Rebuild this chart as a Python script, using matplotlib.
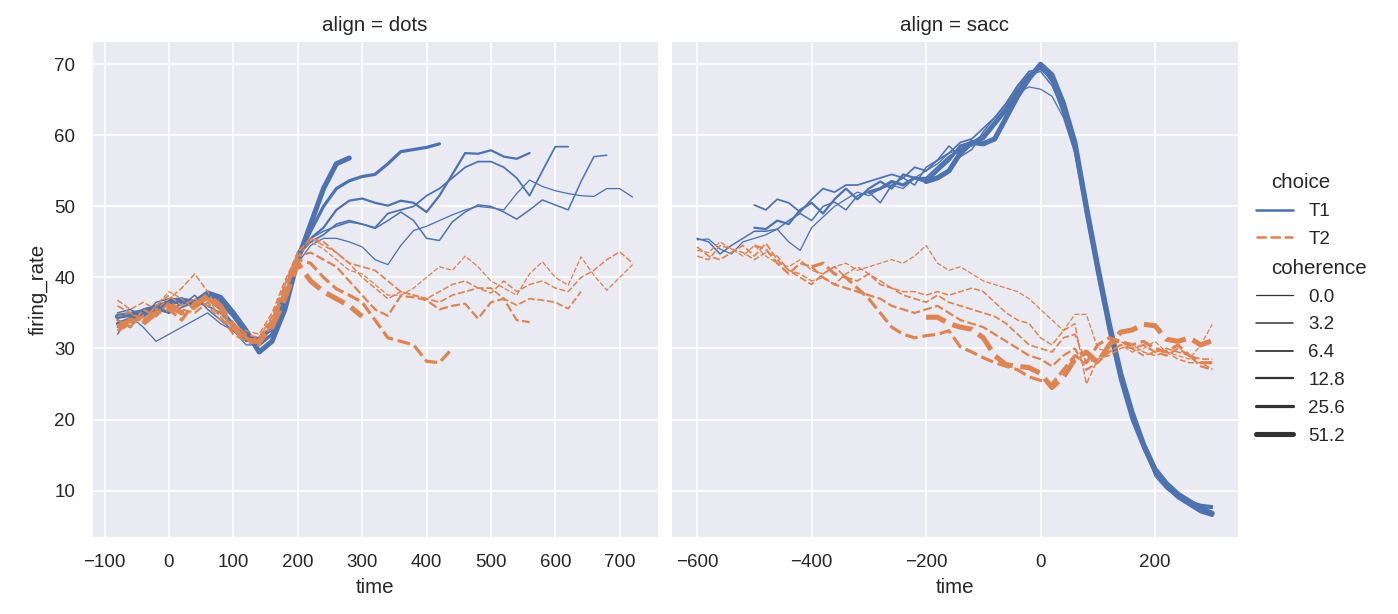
import matplotlib
matplotlib.use("Agg")
import matplotlib.pyplot as plt
import numpy as np
import pandas as pd
import seaborn as sns

# ---------------- data (firing rate every 20 ms) ----------------
STEP = 20

# align = dots, choice = T1 (all start at -80)
dots_T1_c00 = [32.0, 34.5, 33.0, 31.0, 32.0, 33.0, 34.0, 35.0, 33.5, 32.5, 30.5, 30.5, 33.0, 38.0, 42.0,
               44.5, 45.5, 45.5, 45.0, 44.3, 42.5, 41.8, 44.5, 46.6, 47.2, 48.0, 48.8, 49.5, 50.0, 49.8,
               49.5, 51.8, 53.7, 52.8, 52.2, 51.8, 51.5, 51.4, 52.5, 52.5, 51.3]
dots_T1_c32 = [35.0, 35.5, 34.5, 36.5, 37.0, 36.0, 37.5, 35.5, 34.0, 32.5, 31.5, 30.5, 33.5, 37.5, 42.5,
               45.5, 46.5, 47.2, 47.8, 47.5, 46.9, 48.0, 49.2, 48.0, 45.5, 45.2, 47.8, 49.2, 50.2, 50.0,
               49.2, 48.2, 49.5, 50.9, 50.2, 49.5, 53.5, 57.0, 57.2]
dots_T1_c64 = [33.0, 34.0, 34.5, 35.5, 35.0, 35.8, 36.5, 36.0, 35.0, 33.0, 31.0, 31.5, 32.5, 36.5, 43.0,
               45.0, 46.0, 47.5, 48.0, 47.5, 47.0, 49.0, 49.5, 50.0, 51.5, 52.5, 54.0, 55.5, 56.3, 56.3,
               55.5, 54.0, 51.5, 55.0, 58.4, 58.4]
dots_T1_c128 = [34.0, 33.0, 35.5, 36.0, 35.0, 36.5, 36.0, 37.0, 35.5, 33.5, 31.5, 31.5, 33.0, 37.0, 43.5,
                45.5, 47.0, 49.5, 50.8, 51.1, 50.5, 50.1, 50.8, 50.5, 49.2, 51.5, 54.5, 57.5, 57.4, 57.9,
                57.0, 56.7, 57.5]
dots_T1_c256 = [33.5, 34.2, 35.0, 35.5, 36.8, 37.0, 35.8, 37.5, 36.5, 34.5, 32.0, 30.5, 32.0, 36.0, 43.0,
                46.5, 50.0, 52.5, 53.6, 54.2, 54.5, 56.0, 57.7, 58.0, 58.3, 58.8]
dots_T1_c512 = [34.5, 34.8, 35.2, 35.8, 36.4, 36.8, 36.5, 37.8, 37.2, 35.0, 32.5, 29.5, 31.0, 35.5, 42.5,
                47.5, 52.5, 56.0, 56.8]

# align = dots, choice = T2 (all start at -80)
dots_T2_c00 = [34.5, 35.0, 33.5, 36.0, 38.0, 37.0, 35.5, 37.0, 34.5, 32.5, 31.5, 31.0, 34.0, 39.0, 43.0,
               45.0, 44.0, 42.5, 41.0, 40.5, 39.0, 37.5, 37.5, 38.5, 40.0, 41.5, 41.0, 43.0, 41.5, 39.5,
               38.5, 37.5, 40.5, 42.2, 40.0, 38.9, 42.9, 40.3, 38.2, 40.0, 41.8]
dots_T2_c32 = [36.8, 35.5, 36.5, 35.5, 37.0, 38.5, 40.5, 38.0, 35.0, 33.0, 32.5, 32.0, 35.0, 39.5, 43.5,
               45.5, 44.5, 43.5, 42.0, 40.0, 38.5, 37.0, 38.0, 37.5, 37.0, 38.0, 39.0, 39.5, 38.5, 37.8,
               39.5, 38.0, 39.0, 39.5, 38.5, 38.0, 40.0, 41.0, 42.5, 43.6, 42.0]
dots_T2_c64 = [36.0, 35.0, 34.0, 36.0, 37.5, 36.0, 37.0, 36.0, 34.0, 33.5, 32.0, 31.5, 34.5, 39.0, 43.5,
               45.5, 45.0, 43.5, 42.0, 41.5, 41.0, 39.5, 38.0, 37.5, 37.0, 36.5, 37.5, 38.0, 38.5, 38.5,
               37.0, 36.1, 37.0, 36.8, 36.5, 35.6, 38.0]
dots_T2_c128 = [34.0, 33.0, 35.5, 34.5, 36.5, 35.5, 35.0, 36.5, 34.5, 32.0, 31.0, 31.5, 34.0, 38.5, 43.0,
                43.5, 42.5, 41.5, 39.5, 37.5, 35.5, 34.6, 37.4, 37.2, 36.8, 35.5, 36.0, 36.3, 34.2, 36.5,
                37.0, 34.0, 33.7]
dots_T2_c256 = [32.5, 33.5, 34.5, 35.0, 35.5, 34.0, 36.5, 37.0, 35.5, 33.5, 31.5, 30.5, 33.5, 38.0, 42.5,
                42.0, 40.0, 38.4, 37.5, 36.5, 34.0, 31.5, 31.0, 30.5, 28.2, 28.0, 30.0]
dots_T2_c512 = [33.0, 34.0, 33.5, 35.0, 36.0, 35.0, 36.0, 37.5, 36.0, 33.0, 31.0, 31.0, 33.0, 37.0, 42.0,
                39.5, 38.0, 37.0, 36.0, 34.5]

# align = sacc, choice = T1
sacc_T1_c00 = [45.3, 45.4, 44.0, 43.3, 45.0, 45.5, 46.0, 46.8, 45.0, 43.8, 47.0, 48.5, 50.0, 51.0, 52.0,
               51.5, 52.5, 53.0, 52.5, 54.0, 55.0, 56.0, 57.5, 58.0, 58.5, 60.0, 62.0, 64.0, 66.0, 66.8,
               66.5, 65.5, 62.5, 57.5, 49.5, 41.5, 33.5, 26.5, 21.0, 16.5, 12.0, 10.2, 9.0, 8.0, 7.5, 7.6]
sacc_T1_c32 = [45.5, 45.0, 43.3, 44.5, 45.5, 46.5, 46.5, 46.8, 48.0, 49.0, 48.0, 50.0, 50.6, 49.5, 51.5,
               52.0, 50.5, 53.0, 54.0, 53.0, 55.5, 56.5, 58.5, 57.0, 58.0, 60.5, 62.5, 64.5, 67.0, 68.5,
               69.0, 67.0, 63.5, 58.0, 49.0, 41.0, 33.0, 26.0, 20.5, 16.0, 12.5, 10.5, 9.2, 8.5, 7.5, 6.8]
sacc_T1_c64 = [50.2, 49.5, 51.0, 50.5, 49.2, 51.0, 52.5, 52.0, 53.0, 53.0, 53.5, 54.0, 54.5, 54.0, 55.5,
               55.0, 56.5, 57.5, 59.0, 59.5, 61.0, 62.5, 64.5, 67.0, 69.0, 69.3, 68.0, 64.0, 59.0, 50.0,
               42.0, 33.5, 26.0, 20.5, 16.5, 12.5, 10.8, 9.5, 8.5, 7.8, 7.5]
sacc_T1_c128 = [47.0, 46.8, 48.0, 47.5, 49.5, 50.5, 49.0, 51.0, 52.5, 51.0, 52.5, 53.5, 52.5, 54.5, 54.0,
                54.0, 55.5, 57.0, 58.0, 59.0, 60.0, 62.0, 64.0, 66.5, 68.5, 69.8, 67.5, 63.0, 58.5, 49.5,
                41.5, 33.0, 26.0, 21.0, 16.5, 13.0, 11.0, 9.5, 8.5, 8.0, 7.8]
sacc_T1_c256 = [52.0, 52.5, 53.5, 53.0, 54.0, 53.5, 55.0, 56.5, 58.5, 59.0, 59.5, 61.5, 63.5, 66.0, 68.5,
                69.5, 68.0, 63.5, 58.0, 49.0, 40.5, 32.5, 25.5, 20.0, 16.0, 12.5, 10.5, 9.0, 8.0, 7.0, 6.5]
sacc_T1_c512 = [53.5, 54.0, 55.0, 57.5, 59.0, 58.8, 59.5, 62.5, 65.5, 68.0, 70.0, 68.5, 64.5, 59.0, 50.0,
                41.5, 33.5, 26.5, 21.0, 16.5, 13.0, 11.0, 9.5, 8.5, 7.5, 6.8]

# align = sacc, choice = T2
sacc_T2_c00 = [43.8, 43.5, 45.0, 44.0, 43.0, 44.5, 43.0, 42.0, 41.5, 42.5, 41.0, 40.5, 41.5, 42.0, 41.0,
               41.5, 42.0, 42.5, 42.0, 43.0, 44.5, 42.0, 41.0, 41.5, 40.5, 39.5, 39.0, 38.5, 38.0, 37.0,
               35.5, 34.0, 32.5, 34.8, 34.8, 30.0, 29.5, 30.5, 29.5, 30.0, 31.0, 29.5, 29.0, 28.5, 30.5, 33.4]
sacc_T2_c32 = [43.0, 42.5, 44.5, 44.0, 43.5, 42.5, 43.5, 43.0, 41.0, 40.5, 39.5, 40.0, 39.0, 40.5, 41.5,
               40.5, 39.5, 38.5, 38.0, 38.0, 37.5, 38.0, 37.5, 38.0, 38.5, 38.0, 36.5, 35.0, 34.0, 33.5,
               31.5, 30.5, 32.5, 33.5, 25.0, 28.5, 29.0, 30.0, 30.5, 29.5, 29.0, 29.5, 28.5, 28.0, 28.0, 27.1]
sacc_T2_c64 = [44.3, 43.0, 42.5, 43.5, 44.5, 43.0, 44.8, 42.5, 41.0, 40.0, 39.0, 40.5, 41.5, 40.0, 39.5,
               40.5, 39.0, 38.5, 37.5, 37.0, 36.5, 37.5, 36.5, 36.0, 35.5, 35.0, 34.5, 33.5, 32.0, 30.5,
               30.0, 29.5, 31.5, 32.0, 28.0, 28.5, 30.5, 31.0, 30.0, 29.0, 29.5, 30.0, 29.5, 29.0, 28.5, 28.5]
sacc_T2_c128 = [44.5, 44.0, 42.0, 40.5, 42.0, 41.5, 40.0, 39.0, 38.5, 38.0, 37.5, 37.0, 36.0, 35.5, 35.0,
                35.5, 36.0, 35.0, 34.0, 33.5, 33.0, 32.0, 31.0, 30.0, 29.0, 28.5, 27.5, 29.0, 30.0, 27.0,
                28.0, 29.5, 30.5, 30.0, 30.5, 29.5, 29.0, 30.0, 29.0, 27.5, 27.0]
sacc_T2_c256 = [41.5, 42.0, 40.5, 40.0, 38.5, 37.0, 35.0, 33.0, 32.0, 31.5, 31.8, 32.0, 32.5, 30.2, 29.5,
                28.7, 28.0, 27.5, 27.0, 26.0, 25.5, 25.0, 27.0, 29.0, 28.0, 30.5, 31.5, 31.0, 30.5, 31.0,
                30.0, 29.5, 30.5, 29.0, 28.0, 28.0]
sacc_T2_c512 = [34.4, 34.4, 33.5, 33.0, 32.7, 31.5, 29.0, 27.7, 27.5, 27.3, 26.5, 24.5, 26.0, 28.5, 29.5,
                28.0, 30.5, 32.3, 32.6, 33.4, 33.2, 31.3, 31.0, 31.5, 30.5, 31.1]

# (align, choice, coherence, start time, values)
series = [
    ("dots", "T1", 0.0, -80, dots_T1_c00),
    ("dots", "T1", 3.2, -80, dots_T1_c32),
    ("dots", "T1", 6.4, -80, dots_T1_c64),
    ("dots", "T1", 12.8, -80, dots_T1_c128),
    ("dots", "T1", 25.6, -80, dots_T1_c256),
    ("dots", "T1", 51.2, -80, dots_T1_c512),
    ("dots", "T2", 0.0, -80, dots_T2_c00),
    ("dots", "T2", 3.2, -80, dots_T2_c32),
    ("dots", "T2", 6.4, -80, dots_T2_c64),
    ("dots", "T2", 12.8, -80, dots_T2_c128),
    ("dots", "T2", 25.6, -80, dots_T2_c256),
    ("dots", "T2", 51.2, -80, dots_T2_c512),
    ("sacc", "T1", 0.0, -600, sacc_T1_c00),
    ("sacc", "T1", 3.2, -600, sacc_T1_c32),
    ("sacc", "T1", 6.4, -500, sacc_T1_c64),
    ("sacc", "T1", 12.8, -500, sacc_T1_c128),
    ("sacc", "T1", 25.6, -300, sacc_T1_c256),
    ("sacc", "T1", 51.2, -200, sacc_T1_c512),
    ("sacc", "T2", 0.0, -600, sacc_T2_c00),
    ("sacc", "T2", 3.2, -600, sacc_T2_c32),
    ("sacc", "T2", 6.4, -600, sacc_T2_c64),
    ("sacc", "T2", 12.8, -500, sacc_T2_c128),
    ("sacc", "T2", 25.6, -400, sacc_T2_c256),
    ("sacc", "T2", 51.2, -200, sacc_T2_c512),
]

frames = []
for align, choice, coh, start, vals in series:
    t = start + STEP * np.arange(len(vals))
    frames.append(pd.DataFrame({"align": align, "choice": choice, "coherence": coh,
                                "time": t, "firing_rate": vals}))
dots = pd.concat(frames, ignore_index=True)

# ---------------- plot ----------------
sns.set_theme()
plt.rcParams["font.family"] = ["Liberation Sans", "DejaVu Sans"]
plt.rcParams["legend.labelspacing"] = 0.57

g = sns.relplot(
    data=dots, kind="line",
    x="time", y="firing_rate", col="align",
    hue="choice", size="coherence", style="choice",
    facet_kws=dict(sharex=False), errorbar=None,
    height=5, aspect=1,
)
fig = g.figure
fig.set_size_inches(1398 / 122.8, 614 / 122.8)
fig.subplots_adjust(left=91.7 / 1398, right=1238 / 1398,
                    bottom=1 - 538 / 614, top=1 - 41.7 / 614, wspace=0.023)

# make the legend sub-titles ("choice", "coherence") sit to the left like titles
leg = g._legend
subtitles = ("choice", "coherence")
for column in leg._legend_handle_box.get_children():
    for row in column.get_children():
        parts = row.get_children()
        if len(parts) != 2:
            continue
        draw_area, text_area = parts
        txts = [c for c in text_area.get_children() if hasattr(c, "get_text")]
        if txts and txts[0].get_text() in subtitles:
            draw_area.set_width(0)
            txts[0].set_fontsize(12)
leg.set_loc("center left")
leg.set_bbox_to_anchor((1239 / 1398, 1 - 309 / 614), transform=fig.transFigure)

fig.savefig("out.png", dpi=122.8)
